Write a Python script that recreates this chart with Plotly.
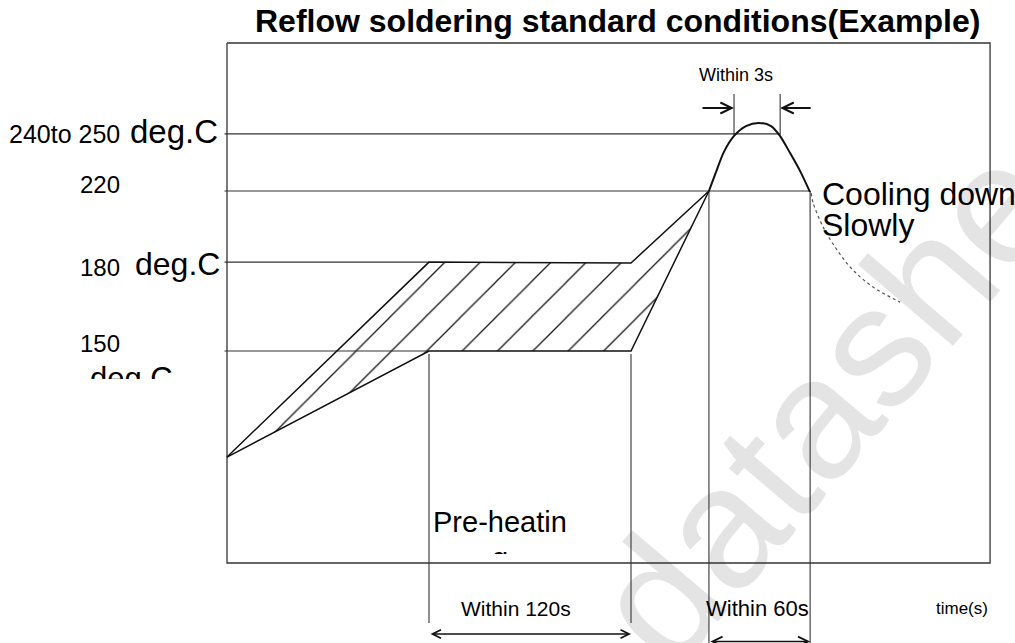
import plotly.graph_objects as go

W, H = 1015, 643

# ---------------- data (schematic reflow profile) ----------------
# x: time in seconds (schematic), y: temperature level in deg.C drawing units
lower_t = [0, 120, 240, 286.3]
lower_T = [103.6, 150, 150, 220]
upper_t = [0, 120, 240, 286.3]
upper_T = [103.6, 188.9, 188.5, 220]

peak_t = [286.3, 290.5, 295.2, 301.2, 308.3, 316.0, 323.2, 328.5, 334.5, 340.4, 346.3]
peak_T = [220.0, 228.3, 237.1, 244.1, 248.4, 249.8, 248.4, 244.1, 236.6, 228.8, 219.6]

cool_t = [347.0, 348.2, 354.1, 362.4, 371.9, 383.8, 399.8]
cool_T = [219.1, 214.8, 204.3, 194.2, 185.4, 178.0, 171.4]

level_values = [245, 220, 188.9, 150]      # drawn levels: 240-250, 220, 180, 150
level_ends = [328.6, 346.4, 120, 120]
level_labels = ["240to 250", "220", "180", "150"]

preheat_window = [120, 240]        # Within 120s
reflow_window = [286.3, 346.4]     # Within 60s
peak_window = [301.2, 328.6]       # Within 3s

frame_t = [0, 453.3]
frame_T = [57.25, 284.75]

# ---------------- scales (pixel <-> data) ----------------
SX = 202 / 120.0          # px per second
SY = 160 / 70.0           # px per degree
X0_PX, Y0_PX = 227, 351   # pixel of (t=0, T=150)
x_range = [-X0_PX / SX, (W - X0_PX) / SX]
y_range = [150 - (H - Y0_PX) / SY, 150 + Y0_PX / SY]


def dx(px):
    return px / SX


def dy(px):
    return px / SY


def T_at(py):
    return 150 + (Y0_PX - py) / SY


FONT = "Liberation Sans, Arial, sans-serif"
INK = "#111111"
THIN = "#333333"

fig = go.Figure()

# hatched pre-heating zone
fig.add_trace(go.Scatter(
    x=upper_t + lower_t[::-1], y=upper_T + lower_T[::-1],
    mode="lines", fill="toself", line=dict(width=0),
    fillcolor="rgba(0,0,0,0)",
    fillpattern=dict(shape="/", size=25, solidity=0.05, fgcolor="#111111", fgopacity=1,
                     bgcolor="rgba(0,0,0,0)", fillmode="overlay"),
    hoverinfo="skip", showlegend=False))

# frame
fig.add_trace(go.Scatter(
    x=[frame_t[0], frame_t[1], frame_t[1], frame_t[0], frame_t[0]],
    y=[frame_T[1], frame_T[1], frame_T[0], frame_T[0], frame_T[1]],
    mode="lines", line=dict(color=THIN, width=1.3), hoverinfo="skip", showlegend=False))

# level lines
lx, ly = [], []
for v, e in zip(level_values, level_ends):
    lx += [-dx(2.5), e, None]
    ly += [v, v, None]
fig.add_trace(go.Scatter(x=lx, y=ly, mode="lines", line=dict(color=THIN, width=1.1),
                         hoverinfo="skip", showlegend=False))

# vertical window lines
vx, vy = [], []
for t in preheat_window:
    vx += [t, t, None]
    vy += [level_values[3] - dy(3), T_at(623), None]
for t in reflow_window:
    vx += [t, t, None]
    vy += [level_values[1], T_at(643), None]
for t in peak_window:
    vx += [t, t, None]
    vy += [level_values[0] - dy(1), T_at(94), None]
fig.add_trace(go.Scatter(x=vx, y=vy, mode="lines", line=dict(color=THIN, width=1.1),
                         hoverinfo="skip", showlegend=False))

# profile bounds
fig.add_trace(go.Scatter(x=upper_t, y=upper_T, mode="lines", line=dict(color=INK, width=1.5),
                         hoverinfo="skip", showlegend=False))
fig.add_trace(go.Scatter(x=lower_t, y=lower_T, mode="lines", line=dict(color=INK, width=1.5),
                         hoverinfo="skip", showlegend=False))

# peak
fig.add_trace(go.Scatter(x=peak_t, y=peak_T, mode="lines",
                         line=dict(color=INK, width=2, shape="spline", smoothing=0.8),
                         hoverinfo="skip", showlegend=False))

# cooling
fig.add_trace(go.Scatter(x=cool_t, y=cool_T, mode="lines",
                         line=dict(color="#555555", width=1.2, dash="dot", shape="spline"),
                         hoverinfo="skip", showlegend=False))

annotations = []


def P(px, py):
    return px / W, 1 - py / H


def text(t, px, py, size, xanchor="center", yanchor="middle", **kw):
    x, y = P(px, py)
    annotations.append(dict(text=t, x=x, y=y, xref="paper", yref="paper", showarrow=False,
                            xanchor=xanchor, yanchor=yanchor,
                            font=dict(family=FONT, size=size, color="#000000"), **kw))


def arrow(x_tip, x_tail, y, head=5, size=1.0, width=1.5, both=False):
    a = dict(x=x_tip, y=y, ax=x_tail, ay=y, xref="x", yref="y", axref="x", ayref="y",
             text="", showarrow=True, arrowhead=head, arrowsize=size, arrowwidth=width,
             arrowcolor=INK, standoff=0, startstandoff=0)
    if both:
        a.update(arrowside="end+start", startarrowhead=head, startarrowsize=size)
    annotations.append(a)


# arrows
y3 = T_at(108)
arrow(peak_window[0], peak_window[0] - dx(33), y3, head=5, size=1.1, width=2)
arrow(peak_window[1], peak_window[1] + dx(32), y3, head=5, size=1.1, width=2)
arrow(preheat_window[1], preheat_window[0], T_at(634), head=5, size=1.3, width=1.3, both=True)
arrow(reflow_window[1], reflow_window[0], T_at(641.5), head=5, size=1.3, width=1.5, both=True)

# texts
text("<b>Reflow soldering standard conditions(Example)</b>", 617, 21, 32)
text("Within 3s", 736, 75, 18)
text(level_labels[0], 122, 134, 25, xanchor="right")
text("deg.C", 128, 131, 33, xanchor="left")
text(level_labels[1], 122, 185, 24, xanchor="right")
text(level_labels[2], 122, 267, 24, xanchor="right")
text("deg.C", 133, 264, 32, xanchor="left")
text(level_labels[3], 122, 343, 24, xanchor="right")
text("deg.C", 88, 359, 31, xanchor="left", yanchor="top", height=18, valign="top")
text("Pre-heatin", 500, 522, 29)
text("g", 500, 540, 29, yanchor="top", height=12, valign="top")
text("Within 120s", 516, 608, 21)
text("Within 60s", 757, 608, 22)
text("time(s)", 962, 608, 17)
text("Cooling down", 820, 194, 32, xanchor="left")
text("Slowly", 820, 225, 32, xanchor="left")

# watermark (light gray, below everything)
wm_shape = dict(type="line", xref="paper", yref="paper", layer="below",
                x0=P(690, 690)[0], y0=P(690, 690)[1], x1=P(1150, 150)[0], y1=P(1150, 150)[1],
                line=dict(color="rgba(0,0,0,0)", width=0),
                label=dict(text="datasheet", textposition="start",
                           font=dict(family=FONT, size=172, color="#e4e4e4")))

fig.update_layout(
    width=W, height=H, margin=dict(l=0, r=0, t=0, b=0, pad=0),
    paper_bgcolor="white", plot_bgcolor="white",
    xaxis=dict(range=x_range, visible=False, fixedrange=True),
    yaxis=dict(range=y_range, visible=False, fixedrange=True),
    showlegend=False, annotations=annotations, shapes=[wm_shape],
)

fig.write_html("out.html", config={"displayModeBar": False},
               post_script="document.body.style.margin='0px';")
